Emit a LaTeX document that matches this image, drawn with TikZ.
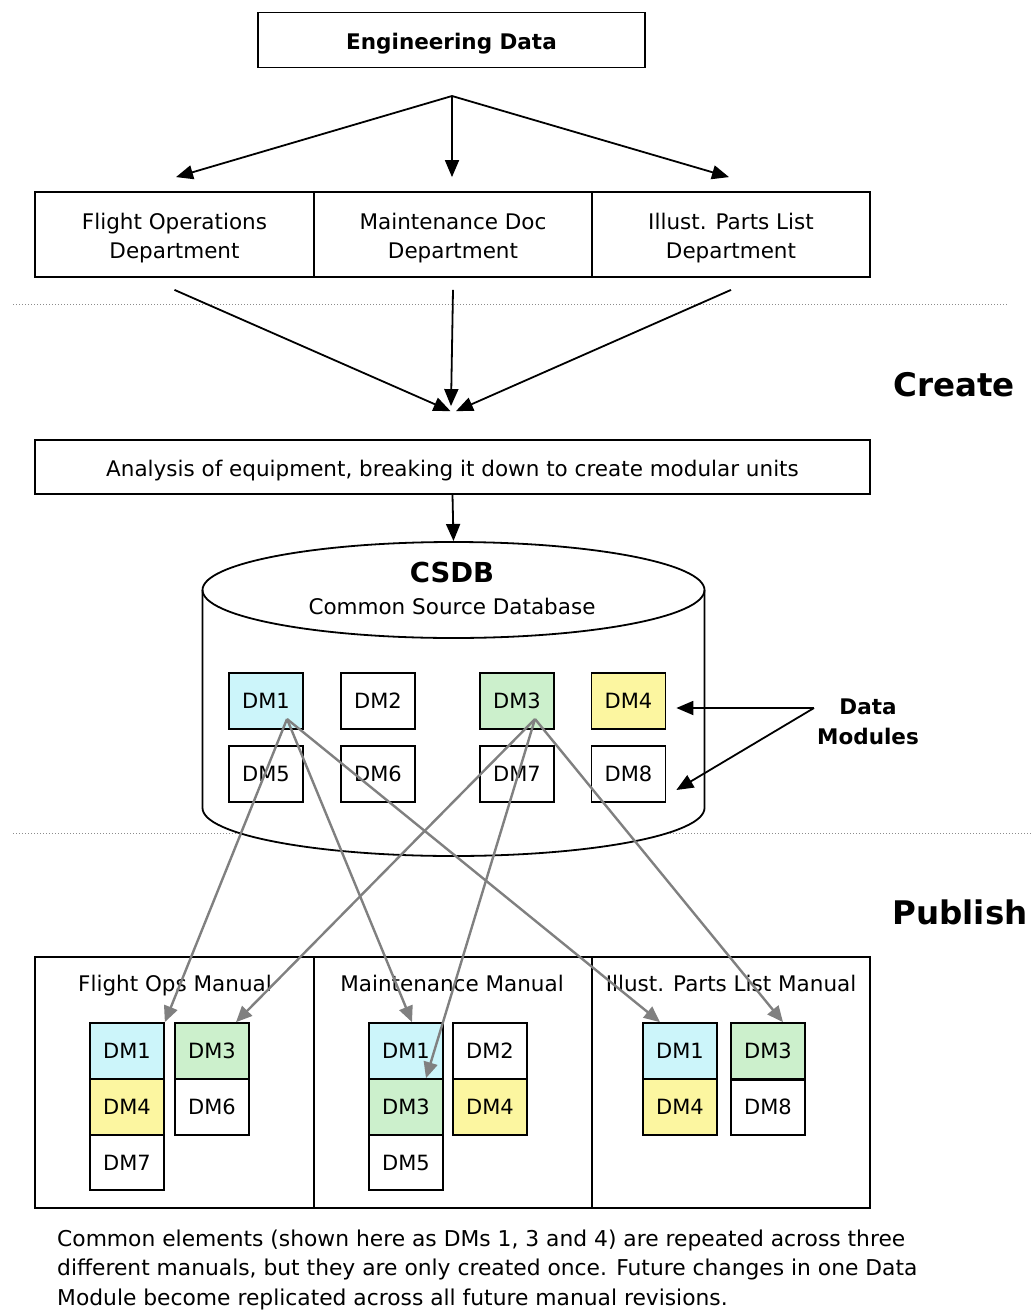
\documentclass[tikz,border=0pt]{standalone}
\usepackage{fontspec}
\setmainfont{DejaVu Sans}
\usetikzlibrary{arrows.meta,calc}

\definecolor{dmcyan}{RGB}{204,245,250}
\definecolor{dmgreen}{RGB}{204,240,204}
\definecolor{dmyellow}{RGB}{252,246,160}
\definecolor{linkgray}{RGB}{128,128,128}
\definecolor{dotgray}{RGB}{140,140,140}

% text inside framed boxes sits a little below the geometric centre
\newcommand\boxtext[1]{\raisebox{-3.5pt}[\height][\depth]{#1}}
\newcommand\twolines[2]{\boxtext{\begin{tabular}{@{}c@{}}#1\\#2\end{tabular}}}

\begin{document}
\begin{tikzpicture}[x=1pt,y=-1pt,
  every node/.style={font=\fontsize{21.5}{29}\selectfont},
  frame/.style={draw, line width=1.8pt, inner sep=0pt},
  dmbox/.style={draw, line width=1.7pt, minimum width=74pt, minimum height=56pt,
    inner sep=0pt, font=\fontsize{21}{25}\selectfont},
  flow/.style={line width=1.8pt, -{Triangle[length=17pt,width=14pt]}},
  link/.style={draw=linkgray, line width=2.4pt, -{Triangle[length=16pt,width=14pt]}},
  sep/.style={dotgray, line width=1pt, dash pattern=on 1pt off 2pt},
  phase/.style={font=\bfseries\fontsize{32.5}{36}\selectfont},
  boldtext/.style={font=\bfseries\fontsize{21.5}{30}\selectfont},
  title/.style={anchor=base},
]
\useasboundingbox (0,0) rectangle (1031,1311);

% ---------- source data and departments ----------
\node[frame, boldtext, minimum width=387pt, minimum height=55pt] (eng) at (451.5,40) {\boxtext{Engineering Data}};

\node[frame, minimum width=279pt, minimum height=85pt] (dfo) at (174.5,234.5) {\twolines{Flight Operations}{Department}};
\node[frame, minimum width=278pt, minimum height=85pt] (dmd) at (453,234.5) {\twolines{Maintenance Doc}{Department}};
\node[frame, minimum width=278pt, minimum height=85pt] (dip) at (731,234.5) {\twolines{Illust. Parts List}{Department}};

\coordinate (split) at (452,96);
\draw[flow] (split) -- ([xshift=1.5pt,yshift=14pt]dfo.north);
\draw[flow] (split) -- ([xshift=-1pt,yshift=14pt]dmd.north);
\draw[flow] (split) -- ([xshift=-2pt,yshift=14pt]dip.north);

% ---------- create phase ----------
\draw[sep] (13,304) -- (1008,304);

\node[frame, minimum width=835pt, minimum height=54pt] (ana) at (452.5,467) {\boxtext{Analysis of equipment, breaking it down to create modular units}};

\draw[flow] ([yshift=-12pt]dfo.south) -- ([xshift=-2pt,yshift=28pt]ana.north);
\draw[flow] ([yshift=-12pt]dmd.south) -- ([xshift=-1.5pt,yshift=33pt]ana.north);
\draw[flow] ([yshift=-12pt]dip.south) -- ([xshift=3.5pt,yshift=28pt]ana.north);

\node[phase] (create) at (954,385) {Create};

% ---------- common source database ----------
\draw[sep] (13,833) -- (1031,833);

\fill[white] (202.5,590) -- (202.5,808) arc[start angle=180, end angle=360, x radius=251pt, y radius=48pt]
  -- (704.5,590) arc[start angle=0, end angle=180, x radius=251pt, y radius=48pt] -- cycle;
\draw[line width=1.8pt] (453.5,590) ellipse [x radius=251pt, y radius=48pt];
\draw[line width=1.8pt] (202.5,590) -- (202.5,808)
  arc[start angle=180, end angle=360, x radius=251pt, y radius=48pt] -- (704.5,590);

\node[boldtext, font=\bfseries\fontsize{27.5}{30}\selectfont] (csdb) at (452,572) {CSDB};
\node (csdbsub) at (452,606) {Common Source Database};
\coordinate (dbtop) at (453.5,541);
\draw[flow] (ana.south) -- (dbtop);

\node[dmbox, fill=dmcyan] (c1) at (266,701) {DM1};
\node[dmbox] (c2) at (378,701) {DM2};
\node[dmbox, fill=dmgreen] (c3) at (517,701) {DM3};
\node[dmbox, fill=dmyellow] (c4) at (628.5,701) {DM4};
\node[dmbox] (c5) at (266,774) {DM5};
\node[dmbox] (c6) at (378,774) {DM6};
\node[dmbox] (c7) at (517,774) {DM7};
\node[dmbox] (c8) at (628.5,774) {DM8};

\node[boldtext, align=center] (dmlabel) at (868,722) {Data\\Modules};
\coordinate (dmsrc) at (814,708);
\draw[flow] (dmsrc) -- ([xshift=10pt,yshift=-7pt]c4.east);
\draw[flow] (dmsrc) -- ([xshift=10pt,yshift=-16pt]c8.east);

% ---------- publish phase ----------
\node[phase] (publish) at (960,912) {Publish};

\node[frame, minimum width=279pt, minimum height=251pt] (mfo) at (174.5,1082.5) {};
\node[frame, minimum width=278pt, minimum height=251pt] (mmm) at (453,1082.5) {};
\node[frame, minimum width=278pt, minimum height=251pt] (mip) at (731,1082.5) {};

\node[title] (tfo) at (175,991) {Flight Ops Manual};
\node[title] (tmm) at (452,991) {Maintenance Manual};
\node[title] (tip) at (731,991) {Illust. Parts List Manual};

% flight ops manual
\node[dmbox, fill=dmcyan] (f1) at (127,1051) {DM1};
\node[dmbox, fill=dmyellow] (f4) at (127,1107) {DM4};
\node[dmbox, minimum height=55pt] (f7) at (127,1162.5) {DM7};
\node[dmbox, fill=dmgreen] (f3) at (212,1051) {DM3};
\node[dmbox] (f6) at (212,1107) {DM6};

% maintenance manual
\node[dmbox, fill=dmcyan] (m1) at (406,1051) {DM1};
\node[dmbox, fill=dmgreen] (m3) at (406,1107) {DM3};
\node[dmbox, minimum height=55pt] (m5) at (406,1162.5) {DM5};
\node[dmbox] (m2) at (490,1051) {DM2};
\node[dmbox, fill=dmyellow] (m4) at (490,1107) {DM4};

% illustrated parts list manual
\node[dmbox, fill=dmcyan] (i1) at (680,1051) {DM1};
\node[dmbox, fill=dmyellow] (i4) at (680,1107) {DM4};
\node[dmbox, fill=dmgreen] (i3) at (768,1051) {DM3};
\node[dmbox] (i8) at (768,1107) {DM8};
\draw[line width=3pt] (i3.south west) -- (i3.south east);

% reuse links from the database into the manuals
\coordinate (s1) at ([shift={(21,18)}]c1.center);
\coordinate (s3) at ([shift={(18,18)}]c3.center);
\draw[link] (s1) -- (f1.north east);
\draw[link] (s1) -- ([xshift=6pt]m1.north);
\draw[link] (s1) -- ([xshift=-20pt]i1.north);
\draw[link] (s3) -- ([xshift=24pt]f3.north);
\draw[link] (s3) -- ([xshift=20pt]m3.north);
\draw[link] (s3) -- ([xshift=15pt]i3.north);

% ---------- note ----------
\node[anchor=north west, align=left, inner sep=0pt, font=\fontsize{21.8}{29.5}\selectfont] (note) at (57,1229.5)
  {Common elements (shown here as DMs 1, 3 and 4) are repeated across three\\
   different manuals, but they are only created once. Future changes in one Data\\
   Module become replicated across all future manual revisions.};
\end{tikzpicture}
\end{document}
